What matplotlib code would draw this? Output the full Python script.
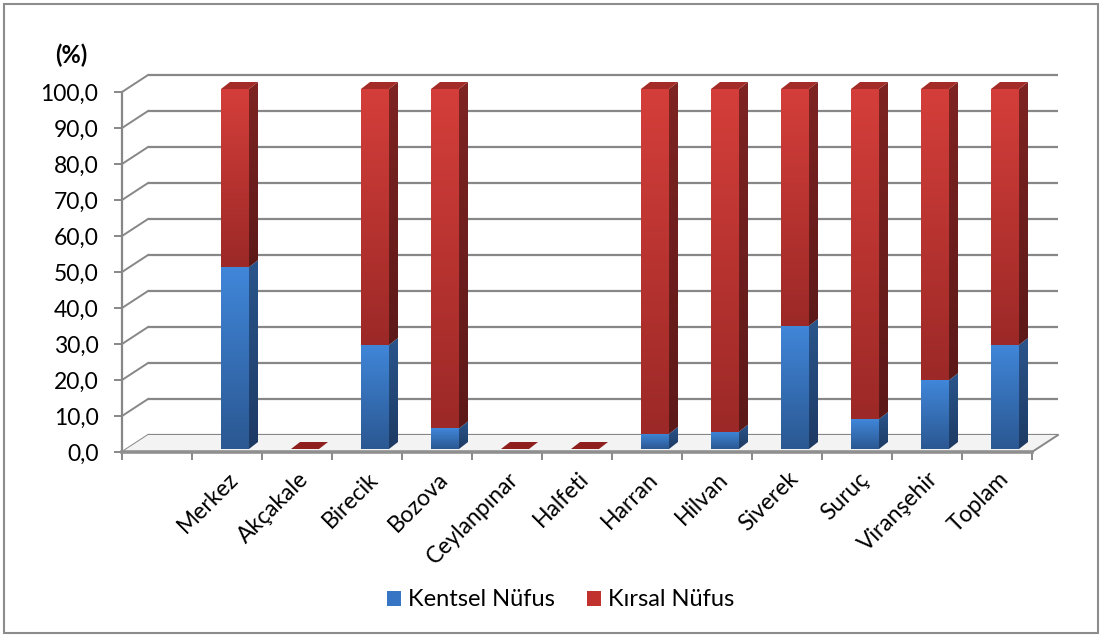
import numpy as np
import matplotlib.pyplot as plt
from matplotlib.patches import Polygon, Rectangle, Patch
from matplotlib.colors import LinearSegmentedColormap

# Veriler (%)
ilceler = ["Merkez", "Akçakale", "Birecik", "Bozova", "Ceylanpınar", "Halfeti",
           "Harran", "Hilvan", "Siverek", "Suruç", "Viranşehir", "Toplam"]
kentsel = [50.5, 0.0, 28.9, 5.7, 0.0, 0.0, 4.2, 4.8, 34.2, 8.3, 19.1, 28.9]
kirsal = [49.5, 0.0, 71.1, 94.3, 0.0, 0.0, 95.8, 95.2, 65.8, 91.7, 80.9, 71.1]
y_ticks = list(range(0, 101, 10))
seriler = ["Kentsel Nüfus", "Kırsal Nüfus"]

plt.rcParams['font.family'] = ['Lato', 'DejaVu Sans']

W, H = 1105, 637
PX_X = 70.0   # piksel / kategori
PX_Y = 3.6    # piksel / %
X0_PX, Y0_PX = 122, 452   # on duzlemde (0, 0) noktasi

n_slot = len(ilceler) + 1          # ilk kategori bos
DX, DY = 26 / PX_X, 17 / PX_Y      # derinlik vektoru
BW = 28 / PX_X                     # bar genisligi
BDX, BDY = 9 / PX_X, 7 / PX_Y      # bar derinligi
B_OFF_X, B_OFF_Y = 8 / PX_X, 3 / PX_Y

GRID = '#878787'
FS = 16.5

fig = plt.figure(figsize=(W / 100, H / 100), dpi=100)
xlim = (-0.1, n_slot + DX + 0.3)
ylim = (-1.5, 100 + DY + 3)
ax = fig.add_axes([(X0_PX + xlim[0] * PX_X) / W,
                   (H - Y0_PX + ylim[0] * PX_Y) / H,
                   (xlim[1] - xlim[0]) * PX_X / W,
                   (ylim[1] - ylim[0]) * PX_Y / H])


def grad_poly(verts, c_top, c_bot, z):
    poly = Polygon(verts, closed=True, facecolor='none', edgecolor='none', zorder=z)
    ax.add_patch(poly)
    xs = [v[0] for v in verts]
    ys = [v[1] for v in verts]
    if max(ys) - min(ys) < 1e-6:
        return
    cmap = LinearSegmentedColormap.from_list('g', [c_bot, c_top])
    grad = np.linspace(0, 1, 64).reshape(-1, 1)
    im = ax.imshow(grad, cmap=cmap, origin='lower', aspect='auto',
                   extent=(min(xs), max(xs), min(ys), max(ys)),
                   interpolation='bilinear', zorder=z)
    im.set_clip_path(poly)


# arka duvar izgaralari ve sol duvar capraz cizgileri
for v in y_ticks:
    ax.plot([DX, n_slot + DX], [v + DY, v + DY], color=GRID, lw=1.6, zorder=1,
            solid_capstyle='butt')
    ax.plot([0, DX], [v, v + DY], color=GRID, lw=1.4, zorder=1)

# zemin
floor = Polygon([(0, 0), (n_slot, 0), (n_slot + DX, DY), (DX, DY)], closed=True,
                facecolor='#f3f3f3', edgecolor='none', zorder=1.5)
ax.add_patch(floor)
ax.plot([n_slot, n_slot + DX], [0, DY], color=GRID, lw=1.4, zorder=1.6)

# barlar
renkler = {
    'mavi': ('#4086d9', '#2b5892', '#2a558c', '#1d3a63'),
    'kirmizi': ('#d43e3a', '#9c2927', '#7e2422', '#5c1918'),
}
pos = np.arange(len(ilceler)) + 1.5 + B_OFF_X
for i, x in enumerate(pos):
    y0 = B_OFF_Y
    segs = [(kentsel[i], 'mavi'), (kirsal[i], 'kirmizi')]
    top_col = '#a32c29'
    for val, key in segs:
        if val <= 0:
            continue
        ft, fb, st, sb = renkler[key]
        ax.bar(x, val, bottom=y0, width=BW, color='none', zorder=3)
        grad_poly([(x - BW / 2, y0), (x + BW / 2, y0), (x + BW / 2, y0 + val),
                   (x - BW / 2, y0 + val)], ft, fb, 3)
        grad_poly([(x + BW / 2, y0), (x + BW / 2 + BDX, y0 + BDY),
                   (x + BW / 2 + BDX, y0 + val + BDY), (x + BW / 2, y0 + val)], st, sb, 3)
        y0 += val
    if y0 <= B_OFF_Y:
        top_col = '#8e1f1d'
    ax.add_patch(Polygon([(x - BW / 2, y0), (x + BW / 2, y0), (x + BW / 2 + BDX, y0 + BDY),
                          (x - BW / 2 + BDX, y0 + BDY)], closed=True,
                         facecolor=top_col, edgecolor='none', zorder=3.1))

ax.set_xlim(*xlim)
ax.set_ylim(*ylim)

# eksenler
for s in ['top', 'right']:
    ax.spines[s].set_visible(False)
ax.spines['left'].set_bounds(0, 100)
ax.spines['left'].set_position(('data', 0))
ax.spines['left'].set_color(GRID)
ax.spines['left'].set_linewidth(1.6)
ax.spines['bottom'].set_position(('data', 0))
ax.spines['bottom'].set_bounds(0, n_slot)
ax.spines['bottom'].set_color('#8f8f8f')
ax.spines['bottom'].set_linewidth(2.6)
ax.spines['left'].set_zorder(2)
ax.spines['bottom'].set_zorder(2)

ax.set_yticks(y_ticks)
ax.set_yticklabels([f"{v:.1f}".replace('.', ',') for v in y_ticks])
ax.tick_params(axis='y', length=6, width=1.4, color=GRID, pad=11, labelsize=FS)

ax.set_xticks(np.arange(n_slot + 1))
ax.set_xticklabels([])
ax.set_xticks(pos, minor=True)
ax.set_xticklabels(ilceler, minor=True)
ax.tick_params(axis='x', which='major', length=6, width=1.4, color=GRID)
ax.tick_params(axis='x', which='minor', length=0, pad=17, labelsize=FS)
for lbl in ax.get_xticklabels(minor=True):
    lbl.set_rotation(45)
    lbl.set_rotation_mode('anchor')
    lbl.set_ha('right')
    lbl.set_va('center')

fig.text(55 / W, 1 - 55 / H, "(%)", fontsize=17, fontweight='bold', va='center')

handles = [Patch(facecolor='#3575c4', edgecolor='none'),
           Patch(facecolor='#c1322f', edgecolor='none')]
fig.legend(handles, seriler, loc='center', bbox_to_anchor=(561 / W, 1 - 600 / H),
           ncol=2, frameon=False, fontsize=17, handlelength=0.6, handleheight=0.6,
           handletextpad=0.3, columnspacing=1.35)

# dis cerceve
fig.patches.append(Rectangle((4 / W, 4 / H), 1094 / W, 629 / H, transform=fig.transFigure,
                             fill=False, edgecolor='#8c8c8c', lw=1.5))

fig.savefig("out.png", dpi=100)
